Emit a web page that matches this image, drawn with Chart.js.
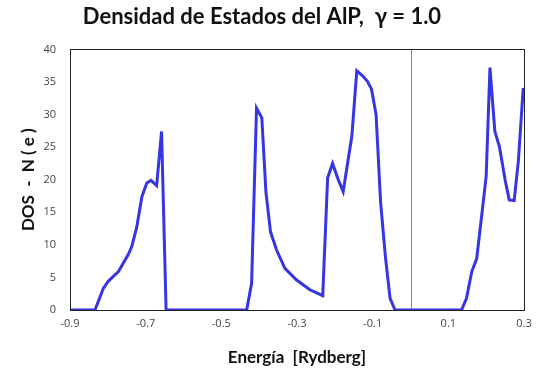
<!DOCTYPE html>
<html>
<head>
<meta charset="utf-8">
<script src="https://cdn.jsdelivr.net/npm/chart.js@4"></script>
<style>
  html, body { margin: 0; padding: 0; background: #fff; }
  #wrap { width: 536px; height: 374px; }
</style>
</head>
<body>
<div id="wrap"><canvas id="dosChart" width="536" height="374"></canvas></div>
<script>
// energy (Rydberg) and DOS values
const energy = [
  -0.9, -0.834, -0.812, -0.799, -0.772, -0.746, -0.737, -0.724, -0.710, -0.697, -0.686, -0.671, -0.658, -0.646,
  -0.433, -0.420, -0.407, -0.393, -0.382, -0.370, -0.354, -0.332, -0.301, -0.266, -0.232, -0.219, -0.206, -0.191,
  -0.178, -0.155, -0.142, -0.126, -0.114, -0.103, -0.091, -0.079, -0.066, -0.054, -0.041,
  0.135, 0.148, 0.162, 0.175, 0.188, 0.200, 0.210, 0.223, 0.235, 0.250, 0.261, 0.274, 0.285, 0.298
];
const dos = [
  0, 0, 3.3, 4.4, 5.9, 8.5, 9.7, 12.6, 17.4, 19.5, 19.9, 19.1, 27.4, 0,
  0, 4.1, 31.0, 29.5, 18.0, 12.0, 9.2, 6.4, 4.6, 3.1, 2.2, 20.3, 22.5, 20.0,
  18.2, 26.7, 36.7, 35.9, 35.1, 33.9, 30.0, 16.5, 8.0, 1.8, 0,
  0, 1.8, 5.9, 7.9, 14.4, 20.5, 37.2, 27.4, 25.1, 20.0, 16.9, 16.8, 22.8, 34.1
];
const xTicks = [-0.9, -0.7, -0.5, -0.3, -0.1, 0.1, 0.3];
const yTicks = [0, 5, 10, 15, 20, 25, 30, 35, 40];
const fermiLevel = 0;

const points = energy.map((e, i) => ({ x: e, y: dos[i] }));

// frame around plot + gray line at E = 0
const framePlugin = {
  id: 'frame',
  beforeDatasetsDraw(chart) {
    const { ctx, chartArea: a, scales } = chart;
    const x0 = Math.round(scales.x.getPixelForValue(fermiLevel)) + 0.5;
    ctx.save();
    ctx.strokeStyle = '#8a8a8a';
    ctx.lineWidth = 1;
    ctx.beginPath();
    ctx.moveTo(x0, a.top);
    ctx.lineTo(x0, a.bottom);
    ctx.stroke();
    ctx.restore();
  },
  afterDraw(chart) {
    const { ctx, chartArea: a } = chart;
    ctx.save();
    ctx.strokeStyle = '#222';
    ctx.lineWidth = 1;
    ctx.strokeRect(Math.round(a.left) + 0.5, Math.round(a.top) + 0.5,
      Math.round(a.right - a.left), Math.round(a.bottom - a.top));
    ctx.restore();
  }
};

new Chart(document.getElementById('dosChart'), {
  type: 'scatter',
  data: {
    datasets: [{
      data: points,
      showLine: true,
      borderColor: '#3535e6',
      borderWidth: 3,
      pointRadius: 0,
      tension: 0
    }]
  },
  options: {
    responsive: false,
    animation: false,
    layout: { padding: { left: 0, right: 12, top: 0, bottom: 0 } },
    plugins: {
      legend: { display: false },
      tooltip: { enabled: false },
      title: {
        display: true,
        text: 'Densidad de Estados del AlP,  \u03b3 = 1.0',
        color: '#111',
        font: { family: 'Lato', size: 22, weight: 'bold' },
        padding: { top: 4, bottom: 19 },
        align: 'center'
      }
    },
    scales: {
      x: {
        type: 'linear',
        min: -0.9,
        max: 0.3,
        afterBuildTicks: s => { s.ticks = xTicks.map(v => ({ value: v })); },
        ticks: {
          color: '#444',
          font: { family: 'Open Sans', size: 11 },
          padding: 7,
          maxRotation: 0,
          callback: v => v.toFixed(1)
        },
        grid: { display: false, drawTicks: false },
        border: { color: '#888' },
        title: {
          display: true,
          text: 'Energía  [Rydberg]',
          color: '#111',
          font: { family: 'Lato', size: 17, weight: 'bold' },
          padding: { top: 4, bottom: 6 }
        },
        afterFit: s => { s.height = 64; s.paddingRight = 0; s.paddingLeft = 0; }
      },
      y: {
        min: 0,
        max: 40,
        afterBuildTicks: s => { s.ticks = yTicks.map(v => ({ value: v })); },
        ticks: {
          color: '#444',
          font: { family: 'Open Sans', size: 11 },
          padding: 14
        },
        grid: { display: false, drawTicks: false },
        border: { color: '#222' },
        title: {
          display: true,
          text: 'DOS  -  N ( e )',
          color: '#111',
          font: { family: 'Lato', size: 17, weight: 'bold' },
          padding: { top: 18, bottom: 4 }
        },
        afterFit: s => { s.width = 70; s.paddingTop = 0; s.paddingBottom = 0; }
      }
    }
  },
  plugins: [framePlugin]
});
</script>
</body>
</html>
